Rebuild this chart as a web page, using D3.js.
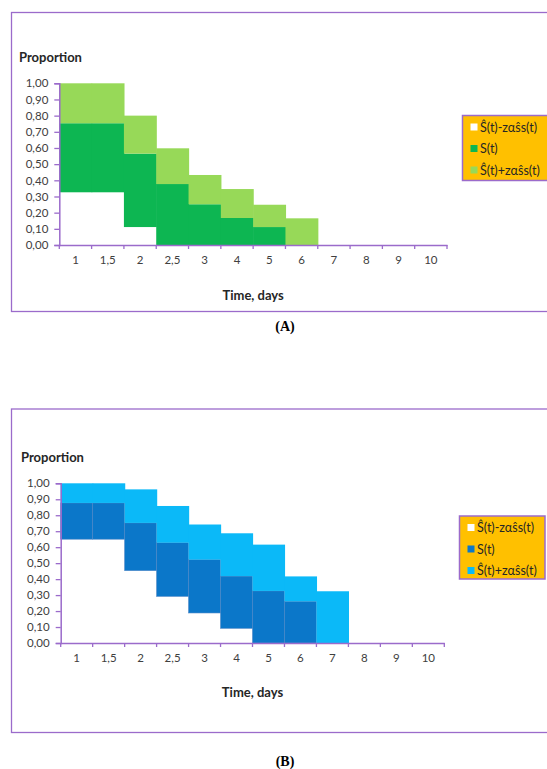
<!DOCTYPE html>
<html>
<head>
<meta charset="utf-8">
<script src="https://cdn.jsdelivr.net/npm/d3@7"></script>
<style>
  html, body { margin: 0; padding: 0; background: #fff; }
  svg { display: block; }
</style>
</head>
<body>
<svg id="chart" width="547" height="769"></svg>
<script>
// ---------- data ----------
const categories = ["1", "1,5", "2", "2,5", "3", "4", "5", "6", "7", "8", "9", "10"];
const yTickValues = [0, 0.1, 0.2, 0.3, 0.4, 0.5, 0.6, 0.7, 0.8, 0.9, 1.0];
const yTickLabels = ["0,00", "0,10", "0,20", "0,30", "0,40", "0,50", "0,60", "0,70", "0,80", "0,90", "1,00"];
const seriesNames = ["\u015C(t)-z\u03B1\u015Ds(t)", "S(t)", "\u015C(t)+z\u03B1\u015Ds(t)"];

// Panel A (stacked segment values)
const lowerA = [0.326, 0.326, 0.111, 0, 0, 0, 0, 0, 0, 0, 0, 0];
const survA  = [0.427, 0.427, 0.454, 0.377, 0.252, 0.167, 0.111, 0, 0, 0, 0, 0];
const upperA = [0.247, 0.247, 0.235, 0.221, 0.181, 0.179, 0.138, 0.165, 0, 0, 0, 0];

// Panel B (stacked segment values)
const lowerB = [0.650, 0.650, 0.453, 0.292, 0.188, 0.092, 0, 0, 0, 0, 0, 0];
const survB  = [0.227, 0.227, 0.299, 0.336, 0.334, 0.327, 0.326, 0.261, 0, 0, 0, 0];
const upperB = [0.123, 0.123, 0.210, 0.230, 0.220, 0.268, 0.290, 0.156, 0.324, 0, 0, 0];

const colorsA = ["#FFFFFF", "#0DB652", "#97D958"];
const colorsB = ["#FFFFFF", "#0B77C9", "#0BB9F8"];

const svg = d3.select("#chart");
const purple = "#9B6BCB";
const font = "Lato, 'Open Sans', sans-serif";

function drawPanel(p) {
  const g = svg.append("g");
  // frame
  g.append("rect")
    .attr("x", p.frame[0]).attr("y", p.frame[1])
    .attr("width", p.frame[2]).attr("height", p.frame[3])
    .attr("fill", "#fff").attr("stroke", purple).attr("stroke-width", 1.3);

  const x = d3.scaleBand().domain(categories).range([p.x0, p.x1]).paddingInner(0).paddingOuter(0);
  const y = d3.scaleLinear().domain([0, 1]).range([p.y0, p.y1]);

  const rows = categories.map((c, i) => ({ cat: c, lo: p.lower[i], s: p.surv[i], up: p.upper[i] }));
  const stack = d3.stack().keys(["lo", "s", "up"]);
  const layers = stack(rows);

  layers.forEach((layer, li) => {
    const sep = li === 1 && p.sepColor;
    g.append("g").selectAll("rect").data(layer).join("rect")
      .attr("x", d => x(d.data.cat))
      .attr("width", x.bandwidth() + (sep ? 0 : 0.6))
      .attr("y", d => y(d[1]))
      .attr("height", d => Math.max(0, y(d[0]) - y(d[1]) + (li === 0 ? 0.5 : 0)))
      .attr("fill", p.colors[li])
      .attr("stroke", sep ? p.sepColor : "none")
      .attr("stroke-width", sep ? 0.6 : 0);
  });

  // y axis
  const yAxis = d3.axisLeft(y).tickValues(yTickValues)
    .tickFormat((d, i) => yTickLabels[i]).tickSize(5).tickPadding(6);
  const ya = g.append("g").attr("transform", `translate(${p.x0},0)`).call(yAxis);
  ya.select(".domain").attr("stroke", purple).attr("stroke-width", 1.5);
  ya.selectAll(".tick line").attr("stroke", purple).attr("stroke-width", 1.3);
  ya.selectAll(".tick text").attr("font-family", font).attr("font-size", "11.5px").attr("fill", "#404040");

  // x axis (labels centered in bands)
  const xAxis = d3.axisBottom(x).tickSize(0).tickPadding(11);
  const xa = g.append("g").attr("transform", `translate(0,${p.y0})`).call(xAxis);
  xa.select(".domain").attr("stroke", purple).attr("stroke-width", 1.5);
  xa.selectAll(".tick text").attr("font-family", font).attr("font-size", "11.5px").attr("fill", "#404040");
  // tick marks at band boundaries
  const bounds = categories.map(c => x(c)).concat([x(categories[categories.length - 1]) + x.bandwidth()]);
  xa.selectAll("line.bnd").data(bounds).join("line").attr("class", "bnd")
    .attr("x1", d => d).attr("x2", d => d).attr("y1", 0).attr("y2", 4)
    .attr("stroke", purple).attr("stroke-width", 1.3);

  // titles
  g.append("text").attr("x", p.propX).attr("y", p.propY)
    .attr("font-family", font).attr("font-weight", "bold").attr("font-size", "13px")
    .attr("fill", "#262626").text("Proportion");
  g.append("text").attr("x", (p.x0 + p.x1) / 2).attr("y", p.timeY).attr("text-anchor", "middle")
    .attr("font-family", font).attr("font-weight", "bold").attr("font-size", "13px")
    .attr("fill", "#262626").text("Time, days");

  // legend
  const lg = g.append("g");
  lg.append("rect").attr("x", p.leg[0]).attr("y", p.leg[1]).attr("width", p.leg[2]).attr("height", p.leg[3])
    .attr("fill", "#FFC000").attr("stroke", purple).attr("stroke-width", 1.5);
  seriesNames.forEach((name, i) => {
    const cy = p.leg[1] + 11.5 + i * 21.5;
    lg.append("rect").attr("x", p.leg[0] + 8).attr("y", cy - 3.5).attr("width", 7).attr("height", 7)
      .attr("fill", p.colors[i]);
    lg.append("text").attr("x", p.leg[0] + 17.5).attr("y", cy + 4.5)
      .attr("font-family", font).attr("font-size", "12.5px").attr("fill", "#262626").text(name);
  });

  // caption
  svg.append("text").attr("x", 285).attr("y", p.capY).attr("text-anchor", "middle")
    .attr("font-family", "'Liberation Serif', 'Times New Roman', serif").attr("font-weight", "bold")
    .attr("font-size", "14px").attr("fill", "#000").text(p.caption);
}

drawPanel({
  frame: [11.5, 12.5, 540, 299], x0: 59.3, x1: 447, y0: 245, y1: 83.3,
  lower: lowerA, surv: survA, upper: upperA, colors: colorsA, sepColor: null,
  propX: 19, propY: 61.5, timeY: 300,
  leg: [462.5, 115.5, 90, 65], capY: 331, caption: "(A)"
});

drawPanel({
  frame: [11.5, 409, 540, 323.5], x0: 60.7, x1: 444.3, y0: 643, y1: 483.3,
  lower: lowerB, surv: survB, upper: upperB, colors: colorsB, sepColor: "#4C86C6",
  propX: 21, propY: 461.5, timeY: 697,
  leg: [459.5, 516, 85.5, 63], capY: 766, caption: "(B)"
});
</script>
</body>
</html>
